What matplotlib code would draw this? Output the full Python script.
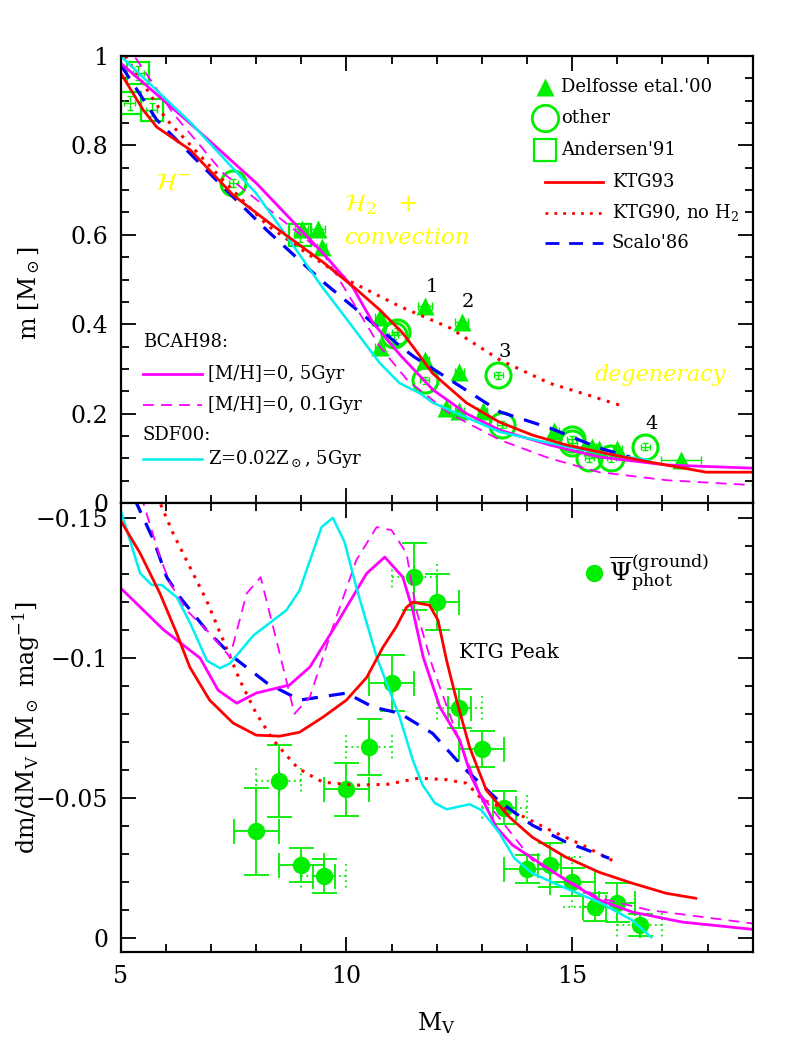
import numpy as np
import matplotlib
matplotlib.use("Agg")
import matplotlib.pyplot as plt
from matplotlib.ticker import MultipleLocator, FuncFormatter

plt.rcParams['font.family'] = ['DejaVu Serif']
plt.rcParams['mathtext.fontset'] = 'dejavuserif'

GREEN = "#00ee00"
RED = "#ff0000"
BLUE = "#0000ff"
MAGENTA = "#ff00ff"
CYAN = "#00f0f0"
YELLOW = "#ffff00"

# ---------------- top panel: mass - luminosity ----------------
ktg93_x = [5.0, 5.5, 5.8, 6.54, 7.49, 8.3, 9.48, 10.2, 10.74, 11.25, 11.62, 11.91,
           12.66, 13.39, 14.12, 14.87, 15.6, 16.7, 17.97, 19.0]
ktg93_m = [0.962, 0.879, 0.841, 0.79, 0.689, 0.626, 0.539, 0.48, 0.432, 0.38, 0.33, 0.29,
           0.224, 0.181, 0.152, 0.13, 0.114, 0.092, 0.069, 0.069]

ktg90_x = [5.1, 6.0, 7.27, 8.24, 9.12, 10.1, 11.18, 12.29, 13.4, 14.5, 15.4, 16.05]
ktg90_m = [1.0, 0.86, 0.722, 0.622, 0.559, 0.495, 0.44, 0.392, 0.32, 0.268, 0.24, 0.219]

scalo_x = [5.0, 5.8, 7.27, 8.24, 9.48, 10.45, 11.2, 11.5, 11.92, 13.4, 14.5, 15.6, 16.28]
scalo_m = [0.98, 0.857, 0.707, 0.61, 0.495, 0.414, 0.35, 0.327, 0.30, 0.204, 0.168, 0.123, 0.103]

bcah5_x = [5.0, 6.53, 8.0, 9.48, 10.14, 10.59, 11.2, 11.92, 12.66, 13.4, 14.5, 15.6, 17.1, 19.0]
bcah5_m = [0.984, 0.85, 0.716, 0.559, 0.483, 0.403, 0.33, 0.253, 0.2, 0.163, 0.13, 0.103, 0.085, 0.078]

bcah01_x = [5.1, 6.16, 7.27, 8.38, 9.48, 10.2, 10.74, 11.35, 12.29, 13.4, 14.5, 15.6, 17.1, 19.0]
bcah01_m = [1.03, 0.872, 0.738, 0.649, 0.56, 0.44, 0.35, 0.275, 0.2, 0.141, 0.1, 0.069, 0.051, 0.04]

sdf_x = [5.0, 6.54, 8.0, 8.74, 9.45, 10.07, 10.74, 11.18, 11.62, 11.92, 13.4, 14.5, 15.6, 16.7]
sdf_m = [1.0, 0.852, 0.693, 0.588, 0.485, 0.403, 0.313, 0.268, 0.246, 0.224, 0.159, 0.134, 0.112, 0.096]

delf_x = [9.01, 9.37, 9.45, 10.74, 10.74, 11.74, 12.55, 11.74, 12.5, 12.2, 12.5, 13.02,
          14.6, 15.43, 15.6, 16.0, 17.41]
delf_m = [0.612, 0.612, 0.573, 0.416, 0.35, 0.44, 0.405, 0.32, 0.293, 0.212, 0.205, 0.205,
          0.162, 0.125, 0.12, 0.12, 0.097]
delf_xerr = [0.15, 0.15, 0.1, 0.1, 0.1, 0.15, 0.15, 0.1, 0.1, 0.1, 0.1, 0.1,
             0.1, 0.1, 0.1, 0.1, 0.45]

other_x = [7.49, 11.05, 11.12, 11.74, 13.36, 13.44, 14.99, 15.0, 15.38, 15.87, 16.62]
other_m = [0.716, 0.375, 0.383, 0.275, 0.286, 0.175, 0.143, 0.135, 0.1, 0.1, 0.126]

anders_x = [5.39, 5.2, 5.69, 8.97]
anders_m = [0.962, 0.895, 0.88, 0.6]

num_labels = ["1", "2", "3", "4"]
num_x = [11.9, 12.7, 13.5, 16.76]
num_m = [0.483, 0.45, 0.338, 0.177]

# ---------------- bottom panel: dm/dMv ----------------
d_ktg93_x = [5.0, 5.43, 5.87, 6.24, 6.53, 6.97, 7.49, 8.0, 8.52, 8.96, 9.48, 10.0, 10.45,
             10.81, 11.1, 11.33, 11.47, 11.84, 12.03, 12.22, 12.44, 12.73, 13.1, 13.61,
             14.12, 14.86, 15.6, 16.33, 17.08, 17.74]
d_ktg93_y = [-0.149, -0.1374, -0.123, -0.1088, -0.0967, -0.0849, -0.0767, -0.0724, -0.072,
             -0.0734, -0.0788, -0.0849, -0.093, -0.1038, -0.111, -0.118, -0.1199, -0.1188,
             -0.1134, -0.099, -0.0849, -0.068, -0.0527, -0.0431, -0.0359, -0.0288, -0.0234,
             -0.0195, -0.0159, -0.0141]

d_ktg90_x = [5.8, 6.16, 6.53, 6.9, 7.27, 7.64, 8.0, 8.38, 8.9, 9.12, 9.48, 10.2, 10.9,
             11.6, 12.2, 12.66, 13.02, 13.76, 14.5, 15.23, 16.0]
d_ktg90_y = [-0.158, -0.1445, -0.1325, -0.1206, -0.1063, -0.092, -0.0802, -0.0706, -0.061,
             -0.0587, -0.0556, -0.0545, -0.0548, -0.057, -0.0565, -0.0552, -0.0492, -0.0446,
             -0.0385, -0.0331, -0.0267]

d_scalo_x = [5.3, 5.73, 6.02, 6.31, 6.9, 7.49, 8.24, 8.97, 10.0, 10.59, 11.18, 11.91, 12.58,
             13.4, 14.12, 14.86, 15.82]
d_scalo_y = [-0.157, -0.142, -0.1288, -0.1217, -0.1099, -0.1003, -0.091, -0.0849, -0.0874,
             -0.0824, -0.0802, -0.073, -0.061, -0.0485, -0.0402, -0.0342, -0.0284]

d_bcah5_x = [5.0, 5.95, 6.76, 7.16, 7.57, 8.0, 8.74, 9.19, 9.7, 10.45, 10.85, 11.25, 11.47,
             11.7, 12.07, 12.51, 12.77, 13.02, 13.32, 13.68, 14.12, 14.86, 15.6, 16.33,
             17.44, 19.0]
d_bcah5_y = [-0.1249, -0.110, -0.0999, -0.0884, -0.0838, -0.0874, -0.0903, -0.0967, -0.1099,
             -0.1302, -0.136, -0.1288, -0.117, -0.1003, -0.0824, -0.0706, -0.0574, -0.0492,
             -0.0395, -0.0331, -0.0284, -0.0206, -0.0135, -0.0092, -0.0056, -0.003]

d_bcah01_x = [5.45, 5.87, 6.09, 6.46, 6.97, 7.42, 7.79, 8.1, 8.45, 8.85, 9.19, 9.7, 10.22,
              10.67, 11.0, 11.33, 11.55, 11.91, 12.44, 12.95, 14.12, 15.6, 16.7, 19.0]
d_bcah01_y = [-0.158, -0.136, -0.1267, -0.117, -0.1088, -0.1003, -0.123, -0.1288, -0.1063,
              -0.080, -0.086, -0.111, -0.1349, -0.1467, -0.1456, -0.1374, -0.117, -0.0967,
              -0.073, -0.0517, -0.0277, -0.0142, -0.0099, -0.0051]

d_sdf_x = [5.0, 5.43, 5.69, 5.91, 6.24, 6.54, 6.91, 7.2, 7.42, 7.94, 8.67, 8.96, 9.45, 9.7,
           9.96, 10.22, 10.67, 11.18, 11.47, 11.69, 11.96, 12.22, 12.73, 12.99, 13.39, 13.72,
           14.12, 14.86, 15.6, 16.33, 16.75]
d_sdf_y = [-0.1528, -0.1302, -0.126, -0.126, -0.1217, -0.1124, -0.099, -0.0963, -0.098,
           -0.108, -0.117, -0.124, -0.1467, -0.15, -0.1413, -0.1252, -0.1003, -0.0788,
           -0.0635, -0.0545, -0.0481, -0.0459, -0.0477, -0.0456, -0.0374, -0.0284, -0.023,
           -0.0177, -0.0127, -0.0063, -0.0002]

psi_x = [8.0, 8.5, 9.0, 9.5, 10.0, 10.5, 11.0, 11.5, 12.0, 12.5, 13.0, 13.5, 14.0, 14.5,
         15.0, 15.5, 16.0, 16.5]
psi_y = [-0.038, -0.056, -0.026, -0.022, -0.053, -0.068, -0.091, -0.129, -0.120, -0.082,
         -0.0675, -0.0465, -0.0245, -0.026, -0.020, -0.011, -0.0125, -0.0045]
psi_xerr = [0.5, 0.0, 0.5, 0.25, 0.5, 0.0, 0.5, 0.0, 0.5, 0.25, 0.5, 0.25, 0.5, 0.25,
            0.5, 0.25, 0.4, 0.0]
psi_yerr = [0.0155, 0.013, 0.006, 0.006, 0.0095, 0.010, 0.010, 0.012, 0.010, 0.007,
            0.0065, 0.006, 0.005, 0.008, 0.005, 0.005, 0.007, 0.004]
psi_xerr_sys = [0.0, 0.5, 0.0, 0.5, 0.0, 0.5, 0.0, 0.5, 0.0, 0.5, 0.0, 0.5, 0.0, 0.0,
                0.0, 0.0, 0.0, 0.5]
psi_yerr_sys = [0.0, 0.0, 0.0, 0.0, 0.0, 0.0, 0.0, 0.0, 0.0, 0.0, 0.0, 0.0, 0.0, 0.0,
                0.009, 0.0, 0.0, 0.0]

XLIM = (5, 19)
CAP = 9
DOT = (0, (1, 2.2))
DASH = (0, (5, 3.5))
LEG_FS = 13


def fmt_tick(v, pos):
    s = f"{v:g}"
    if s in ("0", "-0"):
        return "0"
    return s.replace("-", "\u2212")


def style_axes(ax):
    ax.set_xlim(*XLIM)
    ax.xaxis.set_major_locator(MultipleLocator(5))
    ax.xaxis.set_minor_locator(MultipleLocator(1))
    ax.tick_params(which="both", direction="in", top=True, right=True, width=1.3,
                   labelsize=17, colors="black")
    ax.tick_params(which="major", length=11, pad=9)
    ax.tick_params(which="minor", length=6)
    ax.yaxis.set_major_formatter(FuncFormatter(fmt_tick))
    for sp in ax.spines.values():
        sp.set_linewidth(1.6)


def dotted_err(ax, x, y, xerr, yerr, cap_y, cap_x):
    for xi, yi, xe, ye in zip(x, y, xerr, yerr):
        if xe > 0:
            ax.hlines(yi, xi - xe, xi + xe, colors=GREEN, linestyles=(0, (1, 2)), lw=1.3)
            ax.vlines([xi - xe, xi + xe], yi - cap_y, yi + cap_y, colors=GREEN,
                      linestyles=(0, (1, 2)), lw=1.3)
        if ye > 0:
            ax.vlines(xi, yi - ye, yi + ye, colors=GREEN, linestyles=(0, (1, 2)), lw=1.3)
            ax.hlines([yi - ye, yi + ye], xi - cap_x, xi + cap_x, colors=GREEN,
                      linestyles=(0, (1, 2)), lw=1.3)


def top_panel(ax):
    # data points
    ax.errorbar(delf_x, delf_m, xerr=delf_xerr, fmt="none", ecolor=GREEN, elinewidth=1,
                capsize=3)
    ax.plot(delf_x, delf_m, "^", ms=13, color=GREEN, mec="none")
    ax.errorbar(other_x, other_m, xerr=0.1, yerr=0.008, fmt="none", ecolor=GREEN,
                elinewidth=1, capsize=2)
    ax.plot(other_x, other_m, "o", ms=18, mfc="none", mec=GREEN, mew=2.2)
    ax.errorbar(anders_x, anders_m, xerr=0.12, yerr=0.015, fmt="none", ecolor=GREEN,
                elinewidth=1, capsize=2)
    ax.plot(anders_x, anders_m, "s", ms=16, mfc="none", mec=GREEN, mew=1.6)

    # model curves
    ax.plot(ktg90_x, ktg90_m, color=RED, lw=2.2, ls=DOT)
    ax.plot(scalo_x, scalo_m, color=BLUE, lw=2.3, ls=DASH)
    ax.plot(bcah01_x, bcah01_m, color=MAGENTA, lw=1.3, ls=(0, (6, 4)))
    ax.plot(bcah5_x, bcah5_m, color=MAGENTA, lw=2.0)
    ax.plot(sdf_x, sdf_m, color=CYAN, lw=1.8)
    ax.plot(ktg93_x, ktg93_m, color=RED, lw=2.0)

    for lab, x, m in zip(num_labels, num_x, num_m):
        ax.text(x, m, lab, ha="center", va="center", fontsize=14)

    # physics annotations
    ax.text(5.75, 0.716, r"$\mathcal{H}^{-}$", color=YELLOW, fontsize=18, va="center")
    ax.text(9.95, 0.667, r"$\mathcal{H}_2\ \ +$", color=YELLOW, fontsize=18, va="center")
    ax.text(9.95, 0.593, "convection", color=YELLOW, fontsize=16.5, style="italic",
            va="center")
    ax.text(15.5, 0.286, "degeneracy", color=YELLOW, fontsize=16, style="italic",
            va="center")

    # legend (right)
    T = ax.transAxes
    ax.plot([0.671], [0.931], "^", ms=13, color=GREEN, mec="none", transform=T)
    ax.plot([0.671], [0.861], "o", ms=19, mfc="none", mec=GREEN, mew=2.0, transform=T)
    ax.plot([0.671], [0.790], "s", ms=16, mfc="none", mec=GREEN, mew=1.6, transform=T)
    for y, s in [(0.931, "Delfosse etal.'00"), (0.861, "other"), (0.790, "Andersen'91")]:
        ax.text(0.697, y, s, transform=T, fontsize=LEG_FS, va="center")
    ax.plot([0.671, 0.763], [0.718, 0.718], color=RED, lw=2.0, transform=T)
    ax.plot([0.671, 0.763], [0.649, 0.649], color=RED, lw=2.0, ls=DOT, transform=T)
    ax.plot([0.671, 0.763], [0.582, 0.582], color=BLUE, lw=2.0, ls=DASH, transform=T)
    for y, s in [(0.718, "KTG93"), (0.649, r"KTG90, no H$_2$"), (0.582, "Scalo'86")]:
        ax.text(0.777, y, s, transform=T, fontsize=LEG_FS, va="center")

    # legend (bottom-left)
    ax.text(0.035, 0.360, "BCAH98:", transform=T, fontsize=LEG_FS, va="center")
    ax.plot([0.035, 0.129], [0.289, 0.289], color=MAGENTA, lw=2.0, transform=T)
    ax.text(0.138, 0.289, "[M/H]=0, 5Gyr", transform=T, fontsize=LEG_FS, va="center")
    ax.plot([0.035, 0.129], [0.219, 0.219], color=MAGENTA, lw=1.3, ls=(0, (6, 4)),
            transform=T)
    ax.text(0.138, 0.219, "[M/H]=0, 0.1Gyr", transform=T, fontsize=LEG_FS, va="center")
    ax.text(0.035, 0.152, "SDF00:", transform=T, fontsize=LEG_FS, va="center")
    ax.plot([0.035, 0.129], [0.098, 0.098], color=CYAN, lw=1.8, transform=T)
    ax.text(0.138, 0.098, r"Z=0.02Z$_\odot$, 5Gyr", transform=T, fontsize=LEG_FS,
            va="center")

    style_axes(ax)
    ax.set_ylim(0, 1)
    ax.yaxis.set_major_locator(MultipleLocator(0.2))
    ax.yaxis.set_minor_locator(MultipleLocator(0.05))
    ax.tick_params(labelbottom=False)
    ax.set_ylabel(r"m [M$_\odot$]", fontsize=17)
    ax.yaxis.set_label_coords(-0.125, 0.47)


def bottom_panel(ax):
    dotted_err(ax, psi_x, psi_y, psi_xerr_sys, psi_yerr_sys, cap_y=0.0045, cap_x=0.2)
    ax.errorbar(psi_x, psi_y, xerr=psi_xerr, yerr=psi_yerr, fmt="none", ecolor=GREEN,
                elinewidth=1.3, capsize=CAP, capthick=1.3)
    ax.plot(psi_x, psi_y, "o", ms=12.5, color=GREEN, mec="none")

    ax.plot(d_ktg90_x, d_ktg90_y, color=RED, lw=2.2, ls=DOT)
    ax.plot(d_scalo_x, d_scalo_y, color=BLUE, lw=2.3, ls=DASH)
    ax.plot(d_bcah01_x, d_bcah01_y, color=MAGENTA, lw=1.3, ls=(0, (6, 4)))
    ax.plot(d_bcah5_x, d_bcah5_y, color=MAGENTA, lw=2.0)
    ax.plot(d_sdf_x, d_sdf_y, color=CYAN, lw=1.8)
    ax.plot(d_ktg93_x, d_ktg93_y, color=RED, lw=2.0)

    ax.text(12.5, -0.102, "KTG Peak", fontsize=14.5, va="center")

    T = ax.transAxes
    ax.plot([0.749], [0.844], "o", ms=12.5, color=GREEN, mec="none", transform=T)
    ax.text(0.772, 0.844, r"$\overline{\Psi}_{\rm phot}^{\rm (ground)}$", transform=T,
            fontsize=18, va="center")

    style_axes(ax)
    ax.set_ylim(0.0051, -0.1553)
    ax.yaxis.set_major_locator(MultipleLocator(0.05))
    ax.yaxis.set_minor_locator(MultipleLocator(0.01))
    ax.set_xlabel(r"M$_{\rm V}$", fontsize=17, labelpad=16)
    ax.set_ylabel(r"dm/dM$_{\rm V}$ [M$_\odot$ mag$^{-1}$]", fontsize=17)
    ax.yaxis.set_label_coords(-0.125, 0.5)


def main():
    fig = plt.figure(figsize=(7.95, 10.59), dpi=100)
    ax_top = fig.add_axes([0.1518, 0.525, 0.795, 0.4221])
    ax_bot = fig.add_axes([0.1518, 0.1010, 0.795, 0.4240])
    top_panel(ax_top)
    bottom_panel(ax_bot)
    fig.savefig("out.png", dpi=100)
    plt.close(fig)


if __name__ == "__main__":
    main()
